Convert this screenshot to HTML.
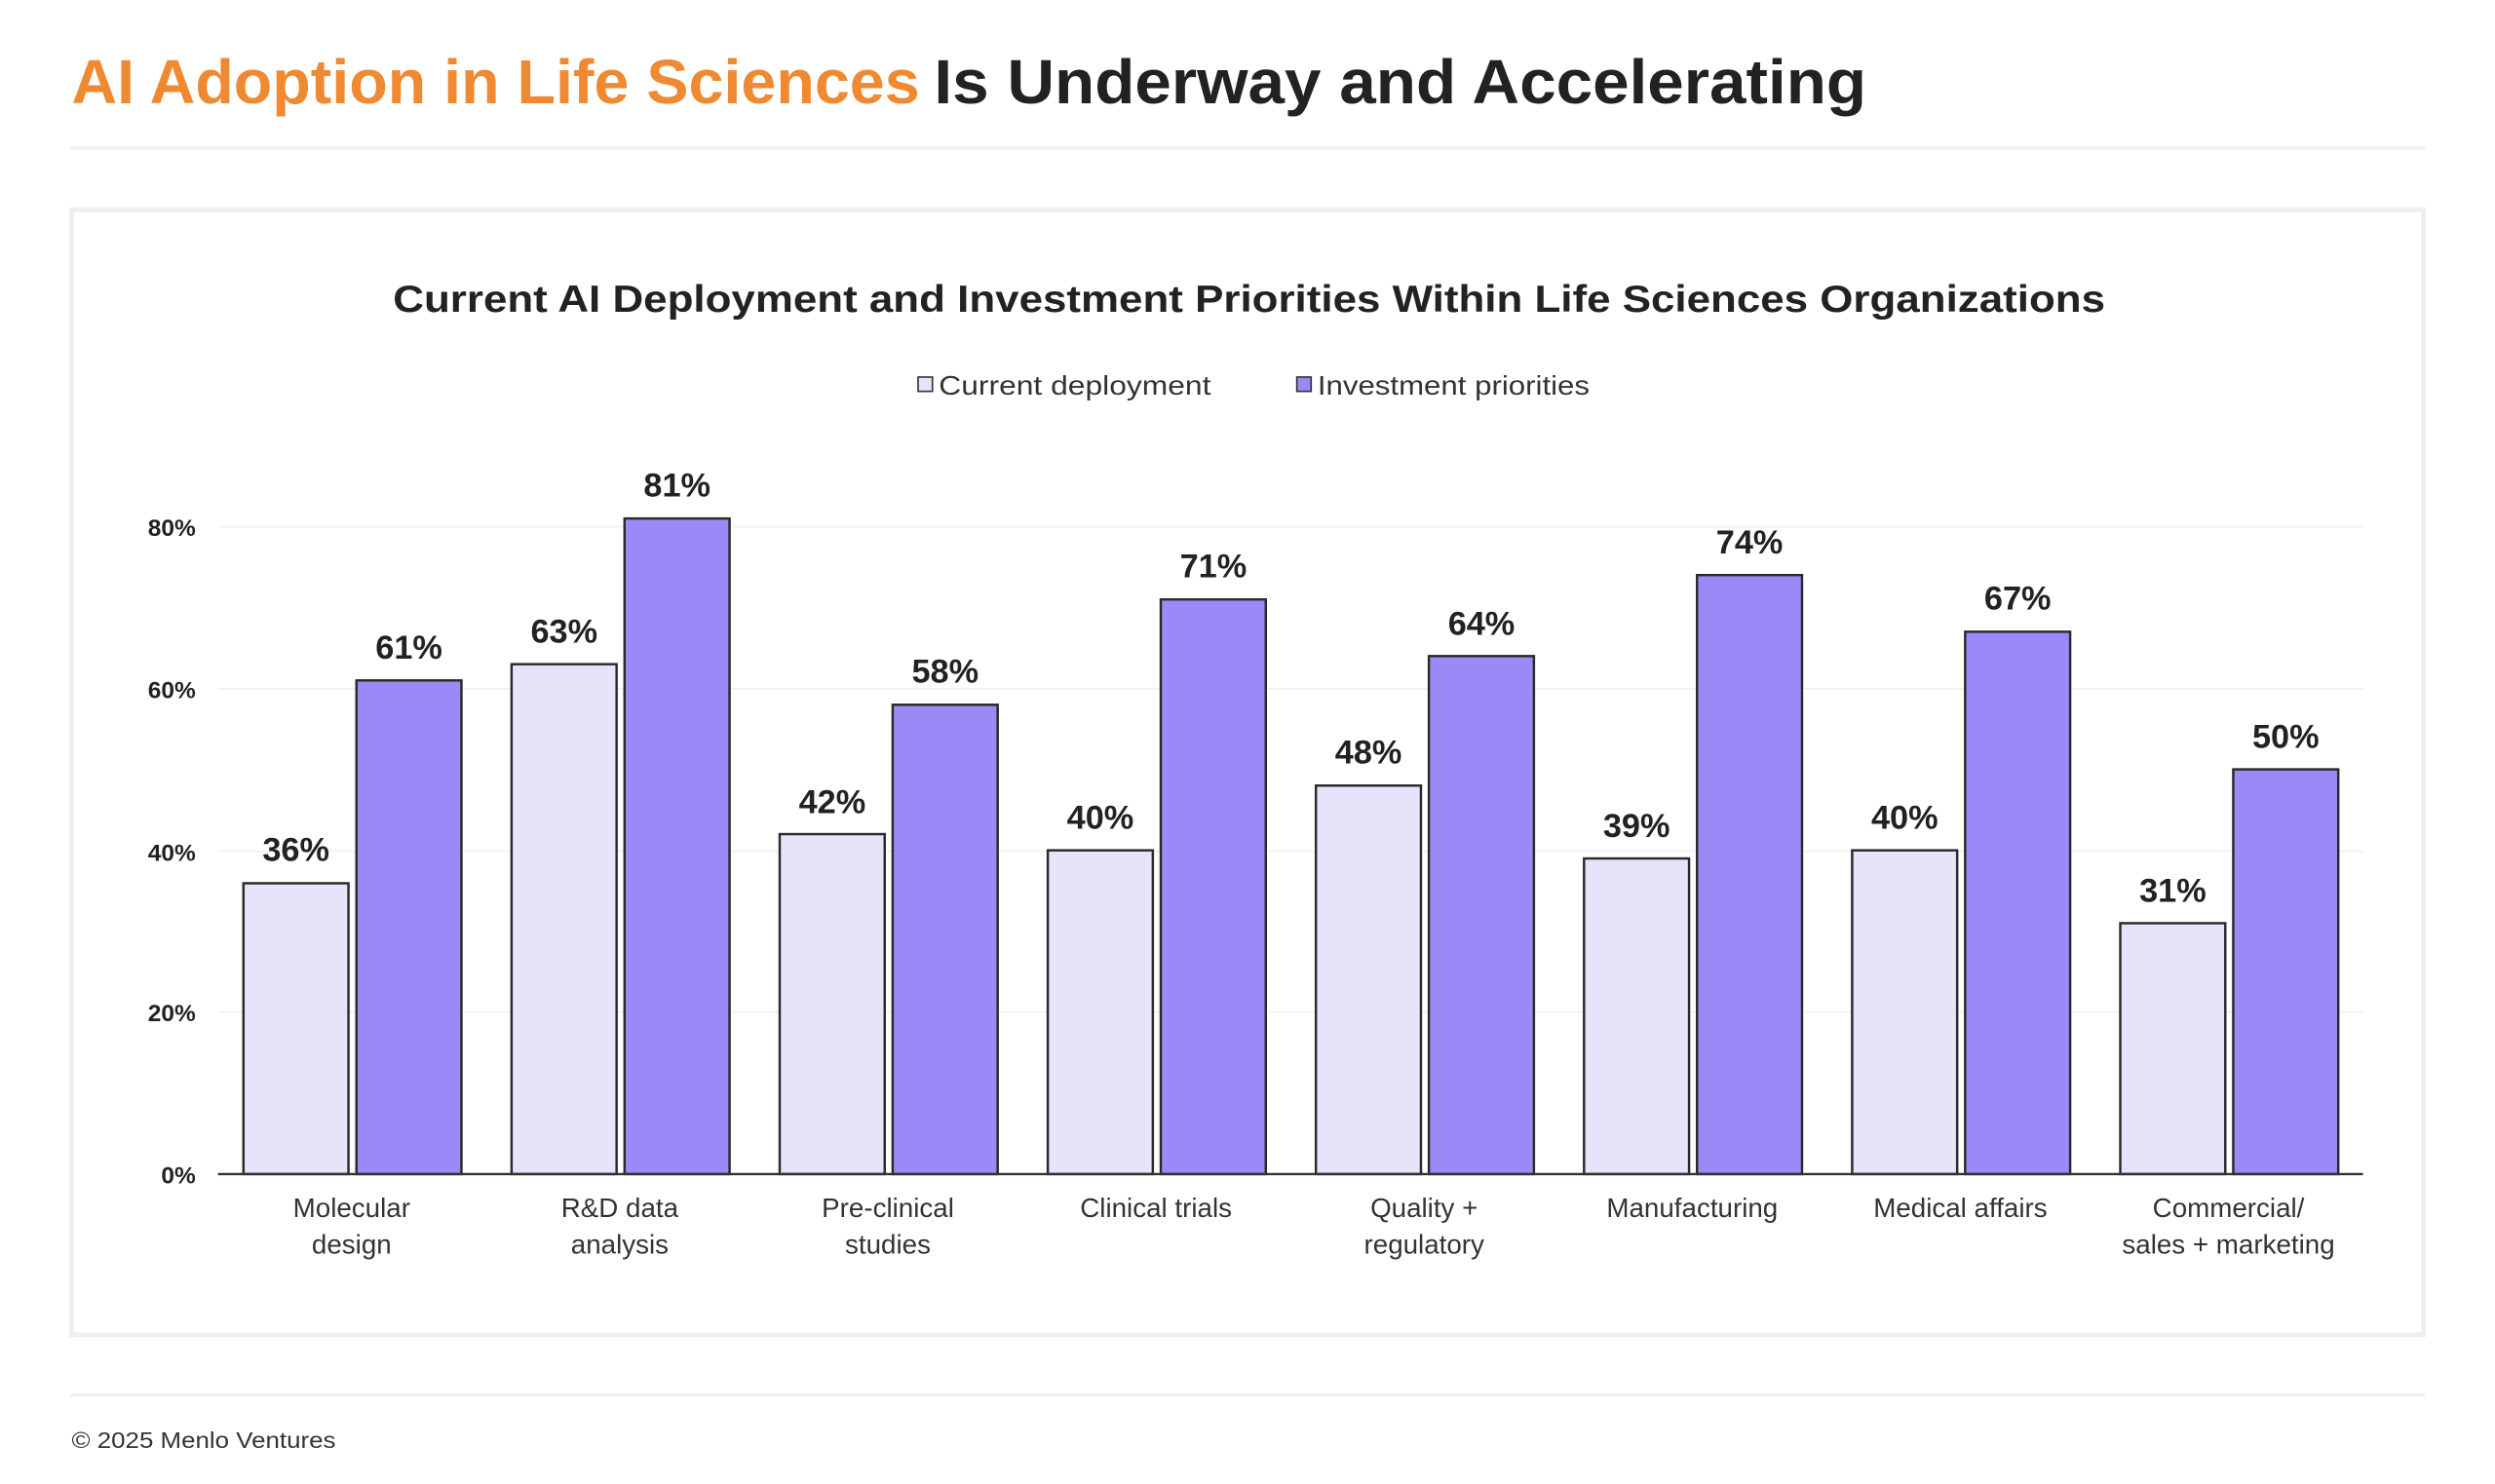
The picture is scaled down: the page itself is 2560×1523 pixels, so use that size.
<!DOCTYPE html>
<html><head><meta charset="utf-8"><style>
html,body{margin:0;padding:0;background:#fff;}
svg{display:block;}
text{font-family:"Liberation Sans",sans-serif;}
</style></head><body>
<svg width="2560" height="1523" viewBox="0 0 1568 932.8" preserveAspectRatio="none" xmlns="http://www.w3.org/2000/svg">
<rect width="1568" height="933" fill="#fff"/>
<text x="45" y="65" font-size="39" font-weight="bold" fill="#ef8a32" textLength="533" lengthAdjust="spacingAndGlyphs">AI Adoption in Life Sciences</text>
<text x="587" y="65" font-size="39" font-weight="bold" fill="#222" textLength="586" lengthAdjust="spacingAndGlyphs">Is Underway and Accelerating</text>
<rect x="44" y="92" width="1480" height="2" fill="#eeeeee"/>
<rect x="45" y="132" width="1478" height="707" fill="#fff" stroke="#efefef" stroke-width="3"/>
<text x="247" y="196" font-size="24" font-weight="bold" fill="#222" textLength="1076" lengthAdjust="spacingAndGlyphs">Current AI Deployment and Investment Priorities Within Life Sciences Organizations</text>
<rect x="577" y="237" width="9" height="9" fill="#e6e3fb" stroke="#333" stroke-width="1"/>
<text x="590" y="248" font-size="17" fill="#333" textLength="171" lengthAdjust="spacingAndGlyphs">Current deployment</text>
<rect x="815" y="237" width="9" height="9" fill="#9a8af7" stroke="#333" stroke-width="1"/>
<text x="828" y="248" font-size="17" fill="#333" textLength="171" lengthAdjust="spacingAndGlyphs">Investment priorities</text>
<g stroke="#f0f0f0" stroke-width="1">
<line x1="137" y1="331" x2="1485" y2="331"/>
<line x1="137" y1="433" x2="1485" y2="433"/>
<line x1="137" y1="535" x2="1485" y2="535"/>
<line x1="137" y1="636" x2="1485" y2="636"/>
</g>
<g font-size="15" font-weight="bold" fill="#222" text-anchor="end">
<text x="123" y="337">80%</text>
<text x="123" y="439">60%</text>
<text x="123" y="541">40%</text>
<text x="123" y="642">20%</text>
<text x="123" y="744">0%</text>
</g>
<g stroke="#2a2a2a" stroke-width="1.5">
<rect x="153" y="555.2" width="66" height="182.8" fill="#e6e3fb"/><rect x="224" y="427.7" width="66" height="310.3" fill="#9a8af7"/>
<rect x="321.5" y="417.5" width="66" height="320.5" fill="#e6e3fb"/><rect x="392.5" y="325.9" width="66" height="412.1" fill="#9a8af7"/>
<rect x="490" y="524.3" width="66" height="213.7" fill="#e6e3fb"/><rect x="561" y="443" width="66" height="295" fill="#9a8af7"/>
<rect x="658.5" y="534.5" width="66" height="203.5" fill="#e6e3fb"/><rect x="729.5" y="376.8" width="66" height="361.2" fill="#9a8af7"/>
<rect x="827" y="493.8" width="66" height="244.2" fill="#e6e3fb"/><rect x="898" y="412.4" width="66" height="325.6" fill="#9a8af7"/>
<rect x="995.5" y="539.6" width="66" height="198.4" fill="#e6e3fb"/><rect x="1066.5" y="361.5" width="66" height="376.5" fill="#9a8af7"/>
<rect x="1164" y="534.5" width="66" height="203.5" fill="#e6e3fb"/><rect x="1235" y="397.1" width="66" height="340.9" fill="#9a8af7"/>
<rect x="1332.5" y="580.3" width="66" height="157.7" fill="#e6e3fb"/><rect x="1403.5" y="483.6" width="66" height="254.4" fill="#9a8af7"/>
</g>
<line x1="137" y1="738" x2="1485" y2="738" stroke="#333" stroke-width="1.5"/>
<g font-size="21" font-weight="bold" fill="#222" text-anchor="middle">
<text x="186" y="541">36%</text><text x="257" y="414">61%</text>
<text x="354.5" y="404">63%</text><text x="425.5" y="312">81%</text>
<text x="523" y="511">42%</text><text x="594" y="429">58%</text>
<text x="691.5" y="521">40%</text><text x="762.5" y="363">71%</text>
<text x="860" y="480">48%</text><text x="931" y="399">64%</text>
<text x="1028.5" y="526">39%</text><text x="1099.5" y="348">74%</text>
<text x="1197" y="521">40%</text><text x="1268" y="383">67%</text>
<text x="1365.5" y="567">31%</text><text x="1436.5" y="470">50%</text>
</g>
<g font-size="17" fill="#333" text-anchor="middle">
<text x="221" y="765">Molecular</text><text x="221" y="788">design</text>
<text x="389.5" y="765">R&amp;D data</text><text x="389.5" y="788">analysis</text>
<text x="558" y="765">Pre-clinical</text><text x="558" y="788">studies</text>
<text x="726.5" y="765">Clinical trials</text>
<text x="895" y="765">Quality +</text><text x="895" y="788">regulatory</text>
<text x="1063.5" y="765">Manufacturing</text>
<text x="1232" y="765">Medical affairs</text>
<text x="1400.5" y="765">Commercial/</text><text x="1400.5" y="788">sales + marketing</text>
</g>
<rect x="44" y="876" width="1480" height="2" fill="#eeeeee"/>
<text x="45" y="910" font-size="14" fill="#333" textLength="166" lengthAdjust="spacingAndGlyphs">© 2025 Menlo Ventures</text>
</svg>
</body></html>
